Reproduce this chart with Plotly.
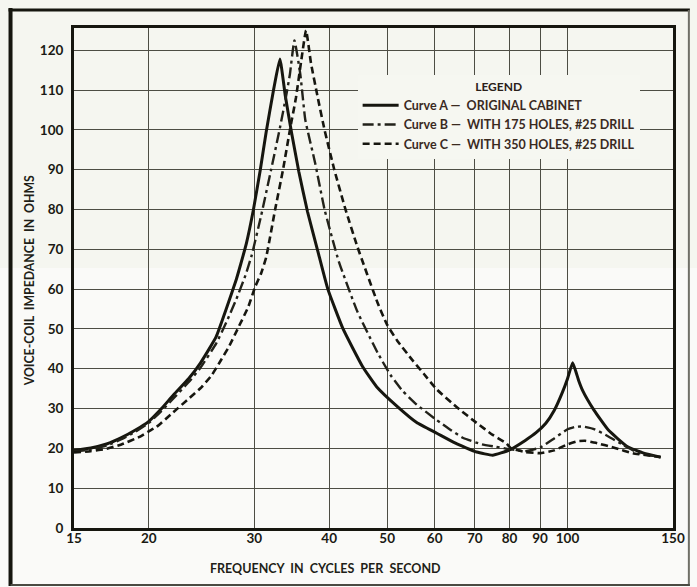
import math
import plotly.graph_objects as go

# ---- data ----
x_ticks = [15, 20, 30, 40, 50, 60, 70, 80, 90, 100, 150]
x_tick_labels = ["15", "20", "30", "40", "50", "60", "70", "80", "90", "100", "150"]
y_ticks = [0, 10, 20, 30, 40, 50, 60, 70, 80, 90, 100, 110, 120]

a_freq = [15, 16, 17, 18, 19, 20, 21, 22, 23.3, 24.4, 25.9, 27, 28, 28.5, 29.1, 29.9, 30.7, 31.4, 32.3, 33.1,
          33.8, 34.6, 35.6, 36.8, 38.3, 39.8, 42.2, 45.5, 48, 52, 56, 60.5, 65, 70.5, 75, 80, 85, 88.7, 92, 95,
          98, 100, 102, 104.4, 106, 110.7, 117, 126, 134, 143]
a_imp = [19.5, 20.1, 21.1, 22.7, 24.6, 26.8, 30, 33.5, 37.5, 41.5, 48, 55.5, 62.5, 66.5, 71.5, 80, 90, 99.5, 110,
         117.8, 108.5, 99.5, 89.5, 79.5, 69.5, 60, 50, 40.5, 35.5, 30.5, 26.5, 23.8, 21.3, 19.1, 18.3, 19.6, 22, 24,
         26.3, 29.5, 34, 37.5, 41.5, 37, 34.5, 29.6, 24.6, 20.4, 18.8, 17.8]

b_freq = [15, 16, 17, 18, 19, 20, 21, 22, 23.3, 24.4, 25.9, 27, 28, 29, 29.7, 30.8, 32, 33.1, 33.9, 34.4, 35.0,
          35.8, 36.5, 37.9, 39.3, 41.5, 44.6, 48.2, 50.6, 53, 56, 60.5, 64, 67, 72, 76, 80, 85, 90, 95, 100, 103,
          106, 111, 117, 124, 131, 143]
b_imp = [19.2, 19.7, 20.7, 22.3, 24.2, 26.4, 29.4, 32.6, 36.6, 40.3, 46.3, 52, 57.5, 63.5, 68.5, 78.5, 90, 100.5,
         108.5, 114, 122.5, 114, 102.5, 91.7, 80, 67, 54.3, 44, 38.5, 34.5, 31, 27.1, 24.5, 22.6, 21, 20.4, 19.8,
         19.3, 20.2, 22.5, 24.8, 25.4, 25.5, 24.8, 23, 20.8, 18.9, 17.8]

c_freq = [15, 16, 17, 18, 19.3, 20, 20.6, 21.9, 23.4, 24.5, 25.5, 26.4, 27.2, 28.2, 29.3, 30.1, 30.8, 31.4, 32.5,
          33.5, 34.4, 35.2, 35.9, 36.6, 37.3, 38.3, 39.3, 40.8, 42.6, 44.6, 48.2, 50, 52, 55, 57.5, 60.5, 65.5,
          70.5, 75, 79, 80.5, 85, 90, 95, 100, 104, 107, 111.5, 120, 128.5, 143]
c_imp = [19.0, 19.3, 19.9, 21, 22.9, 24.3, 25.4, 28.9, 32.7, 35.4, 38.5, 42.2, 45.5, 50.3, 55.5, 60.6, 64, 68, 80,
         90, 100, 108, 117, 125, 116.8, 108, 100, 90, 80, 70.6, 56.5, 51, 47, 42.3, 38.8, 34.8, 30.2, 26.4, 23.4,
         21.3, 20, 19.1, 18.8, 19.5, 21, 21.8, 21.9, 21.4, 20.1, 18.8, 17.8]

names = ["Curve A \u2014  ORIGINAL CABINET",
         "Curve B \u2014  WITH 175 HOLES, #25 DRILL",
         "Curve C \u2014  WITH 350 HOLES, #25 DRILL"]

# ---- styling ----
INK = "#16160f"
FONT = "Lato"
W, H = 697, 587
L, R, T, B = 74, 19, 28, 59
pw, ph = W - L - R, H - T - B


def px_x(p):
    return (p - L) / pw


def px_y(p):
    return (H - B - p) / ph


fig = go.Figure()
fig.add_trace(go.Scatter(x=a_freq, y=a_imp, mode="lines", name=names[0],
                         line=dict(color=INK, width=3, shape="spline", smoothing=0.4)))
fig.add_trace(go.Scatter(x=b_freq, y=b_imp, mode="lines", name=names[1],
                         line=dict(color="#22221a", width=2.4, dash="11px,4px,3px,4px",
                                   shape="spline", smoothing=0.4)))
fig.add_trace(go.Scatter(x=c_freq, y=c_imp, mode="lines", name=names[2],
                         line=dict(color=INK, width=2.6, dash="7px,4px", shape="spline", smoothing=0.4)))

fig.update_xaxes(type="log", range=[math.log10(15), math.log10(150)],
                 tickvals=x_ticks, ticktext=x_tick_labels,
                 showgrid=True, gridcolor="#4d4d44", gridwidth=1.3,
                 showline=True, linecolor=INK, linewidth=3, mirror=True,
                 ticks="", ticklabelstandoff=-4,
                 tickfont=dict(family=FONT, size=13.5, color="#1a1a14", weight=700),
                 zeroline=False)
fig.update_yaxes(range=[0, 125.6], tickvals=y_ticks,
                 showgrid=True, gridcolor="#4d4d44", gridwidth=1.3,
                 showline=True, linecolor=INK, linewidth=3, mirror=True,
                 ticks="", ticklabelstandoff=5,
                 tickfont=dict(family=FONT, size=13.5, color="#1a1a14", weight=700),
                 zeroline=False)

shapes = [
    # lighter lower half of the scanned page
    dict(type="rect", xref="paper", yref="paper", x0=-0.2, x1=1.2, y0=-0.2, y1=px_y(268),
         fillcolor="#fafaf8", line=dict(width=0), layer="below"),
    # outer frame of the printed figure
    dict(type="line", xref="paper", yref="paper", x0=px_x(10), x1=px_x(10), y0=px_y(8), y1=px_y(586),
         line=dict(color=INK, width=4), layer="above"),
    dict(type="line", xref="paper", yref="paper", x0=px_x(8), x1=px_x(695), y0=px_y(10), y1=px_y(10),
         line=dict(color=INK, width=3), layer="above"),
    dict(type="line", xref="paper", yref="paper", x0=px_x(694), x1=px_x(694), y0=px_y(10), y1=px_y(586),
         line=dict(color="#6f6f67", width=2), layer="above"),
    dict(type="line", xref="paper", yref="paper", x0=px_x(10), x1=px_x(695), y0=px_y(585), y1=px_y(585),
         line=dict(color="#4a4a42", width=2), layer="above"),
]

annotations = [
    dict(text="VOICE-COIL  IMPEDANCE  IN  OHMS", xref="paper", yref="paper",
         x=px_x(29), y=px_y(281), xanchor="center", yanchor="middle", textangle=-90, showarrow=False,
         font=dict(family=FONT, size=12.3, color="#1f1f18", weight=700)),
    dict(text="FREQUENCY  IN  CYCLES  PER  SECOND", xref="paper", yref="paper",
         x=px_x(328), y=px_y(568), xanchor="center", yanchor="middle", showarrow=False,
         font=dict(family=FONT, size=12.5, color="#1f1f18", weight=700)),
]

fig.update_layout(
    width=W, height=H,
    margin=dict(l=L, r=R, t=T, b=B),
    paper_bgcolor="#f5f6f0", plot_bgcolor="rgba(0,0,0,0)",
    showlegend=True,
    legend=dict(x=px_x(360), y=px_y(75), xanchor="left", yanchor="top",
                bgcolor="#f6f7f1", borderwidth=0,
                title=dict(text="LEGEND", side="top center",
                           font=dict(family=FONT, size=12, color="#2a2018", weight=700)),
                font=dict(family=FONT, size=12.5, color="#3a2a1f", weight=700),
                itemwidth=36, tracegroupgap=0),
    shapes=shapes, annotations=annotations,
)

fig.write_html("out.html", config={"displayModeBar": False},
               post_script="document.body.style.margin='0px';")
